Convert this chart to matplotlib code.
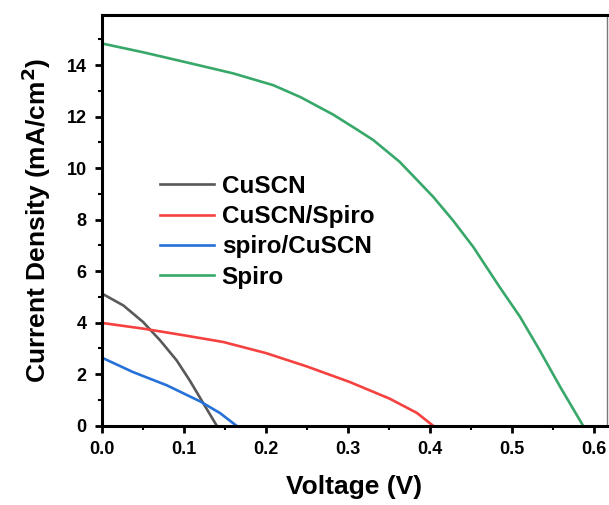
"""
J-V curves for different hole transport layers
"""
import matplotlib
matplotlib.use("Agg")
import matplotlib.pyplot as plt
from matplotlib.ticker import MultipleLocator

plt.rcParams["font.family"] = ["Liberation Sans", "DejaVu Sans"]
plt.rcParams["font.weight"] = "bold"
plt.rcParams["mathtext.default"] = "bf"

# 数据
v_cuscn = [0, 0.026, 0.05, 0.071, 0.091, 0.107, 0.124, 0.14]
j_cuscn = [5.13, 4.67, 4.03, 3.31, 2.54, 1.76, 0.85, 0.0]

v_cuscn_spiro = [0, 0.05, 0.1, 0.148, 0.2, 0.25, 0.302, 0.351, 0.384, 0.404]
j_cuscn_spiro = [3.99, 3.77, 3.51, 3.25, 2.82, 2.30, 1.70, 1.05, 0.50, 0.0]

v_spiro_cuscn = [0, 0.038, 0.079, 0.12, 0.144, 0.164]
j_spiro_cuscn = [2.64, 2.08, 1.57, 0.94, 0.49, 0.0]

v_spiro = [0, 0.05, 0.1, 0.16, 0.209, 0.242, 0.282, 0.311, 0.331, 0.363,
           0.404, 0.428, 0.453, 0.485, 0.510, 0.534, 0.559, 0.587]
j_spiro = [14.84, 14.5, 14.13, 13.68, 13.22, 12.76, 12.08, 11.5, 11.09, 10.25,
           8.89, 7.98, 6.94, 5.39, 4.23, 2.93, 1.51, 0.0]

labels = ["CuSCN", "CuSCN/Spiro", "spiro/CuSCN", "Spiro"]
colors = ["#595959", "#f5413f", "#2571d8", "#38a86a"]

fig = plt.figure(figsize=(6.09, 5.05), dpi=100)
ax = fig.add_axes([0.1675, 0.157, 0.829, 0.813])

series = [(v_cuscn, j_cuscn), (v_cuscn_spiro, j_cuscn_spiro),
          (v_spiro_cuscn, j_spiro_cuscn), (v_spiro, j_spiro)]
for (v, j), lab, c in zip(series, labels, colors):
    ax.plot(v, j, color=c, lw=1.9, label=lab)

ax.set_xlim(0, 0.616)
ax.set_ylim(0, 15.94)
ax.xaxis.set_major_locator(MultipleLocator(0.1))
ax.xaxis.set_minor_locator(MultipleLocator(0.05))
ax.yaxis.set_major_locator(MultipleLocator(2))
ax.yaxis.set_minor_locator(MultipleLocator(1))
ax.xaxis.set_major_formatter(plt.FuncFormatter(lambda x, p: f"{x:.1f}"))

ax.tick_params(which="major", direction="out", length=5, width=2, labelsize=13, pad=6)
ax.tick_params(which="minor", direction="out", length=3, width=1.5)
for side in ["left", "bottom", "top"]:
    ax.spines[side].set_linewidth(2.2)
ax.spines["right"].set_linewidth(1.0)
ax.spines["right"].set_color("#777777")

ax.set_xlabel("Voltage (V)", fontsize=19, fontweight="bold", labelpad=12)
ax.set_ylabel("Current Density (mA/cm$^2$)", fontsize=19, fontweight="bold", labelpad=10)

ax.legend(loc="upper left", bbox_to_anchor=(0.095, 0.635), frameon=False,
          prop={"size": 17.5, "weight": "bold"}, handlelength=2.25,
          handletextpad=0.3, labelspacing=0.3, borderaxespad=0)

plt.savefig("out.png", dpi=100)
plt.close(fig)
